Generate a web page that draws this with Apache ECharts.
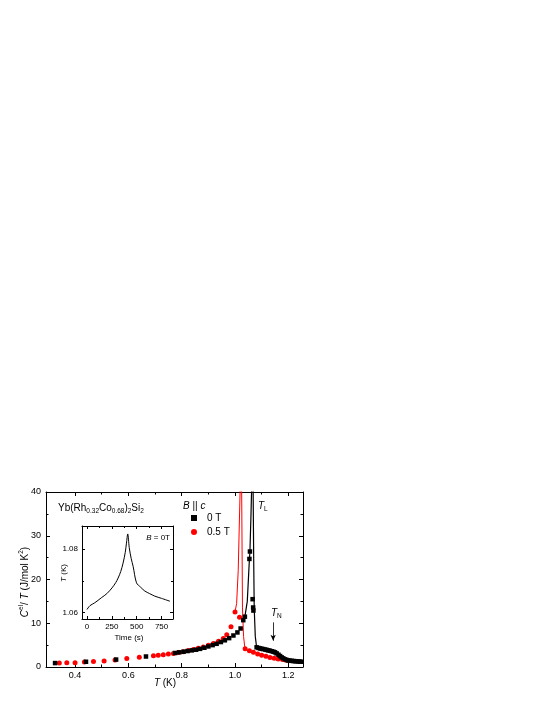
<!DOCTYPE html>
<html><head><meta charset="utf-8">
<script src="https://cdn.jsdelivr.net/npm/echarts@6/dist/echarts.min.js"></script>
<style>html,body{margin:0;padding:0;background:#fff}#c{width:545px;height:705px}</style>
</head><body><div id="c"></div>
<script>
// ---- Data: B = 0 T (black squares) ----
const T_0T = [0.325,0.441,0.554,0.666,0.775,0.791,0.807,0.822,0.838,0.854,0.869,0.885,0.900,0.916,0.931,0.947,0.962,0.978,0.994,1.009,1.021,1.031,1.037,1.054,1.056,1.066,1.068,1.069,1.081,1.088,1.094,1.100,1.106,1.113,1.119,1.125,1.131,1.138,1.144,1.150,1.156,1.163,1.169,1.175,1.181,1.188,1.194,1.200,1.206,1.213,1.219,1.225,1.231,1.238,1.244,1.250];
const C_0T = [0.9,1.2,1.7,2.4,3.2,3.35,3.5,3.65,3.8,3.95,4.15,4.4,4.7,5.0,5.3,5.7,6.1,6.6,7.2,7.9,8.8,10.7,11.5,24.7,26.4,15.5,13.6,12.9,4.5,4.35,4.25,4.15,4.1,4.0,3.9,3.8,3.73,3.6,3.5,3.35,3.12,2.8,2.5,2.2,1.98,1.75,1.6,1.5,1.45,1.4,1.37,1.33,1.3,1.26,1.22,1.2];
// ---- Data: B = 0.5 T (red circles) ----
const T_05T = [0.341,0.369,0.400,0.435,0.469,0.509,0.550,0.594,0.641,0.694,0.712,0.731,0.750,0.769,0.787,0.806,0.825,0.844,0.862,0.881,0.900,0.919,0.938,0.956,0.969,0.985,1.000,1.017,1.038,1.054,1.069,1.085,1.100,1.116,1.131,1.147,1.162,1.178,1.193];
const C_05T = [0.9,0.95,1.0,1.15,1.25,1.4,1.6,1.95,2.25,2.6,2.7,2.8,2.95,3.1,3.3,3.5,3.75,4.0,4.3,4.6,5.0,5.4,5.9,6.5,7.4,9.2,12.6,11.4,4.2,3.7,3.35,3.0,2.7,2.45,2.2,2.0,1.85,1.7,1.55];
// ---- Connecting lines through the transitions ----
const lineT_05T = [1.000,1.006,1.012,1.019,1.022,1.025,1.028,1.032,1.037];
const lineC_05T = [12.6,14.5,22,40,55,40,13.5,7,4.3];
const lineT_0T = [1.031,1.037,1.046,1.054,1.056,1.060,1.062,1.065,1.068,1.070,1.072,1.076,1.081];
const lineC_0T = [10.7,11.5,15,24.7,26.4,35,40,55,40,25,13.5,7,4.5];
// ---- Inset: temperature vs time ----
const timeS = [0,30,78,145,200,252,290,313,340,363,385,397,410,425,445,464,498,540,582,630,682,750,834];
const tempK = [1.0610,1.0622,1.0631,1.0647,1.0660,1.0678,1.0695,1.0709,1.0730,1.0756,1.0790,1.0819,1.0848,1.0805,1.0770,1.0746,1.0694,1.0680,1.0668,1.0660,1.0652,1.0645,1.0636];
// ---- Ticks ----
const xTicks = [0.4,0.6,0.8,1.0,1.2];
const xMinor = [0.5,0.7,0.9,1.1];
const yTicks = [0,10,20,30,40];
const yMinor = [5,15,25,35];
const insetXTicks = [0,250,500,750];
const insetXMinor = [125,375,625];
const insetYTicks = [1.06,1.08];
const insetYMinor = [1.07];
// T_N arrow
const arrowT = 1.143, arrowFrom = 10.2, arrowTo = 6.0;

const FONT = 'Liberation Sans, Arial, sans-serif';
const zip = (a,b) => a.map((v,i)=>[v,b[i]]);

function ax(o){
  return {
    type:'value', gridIndex:o.g, position:o.pos, min:o.min, max:o.max,
    axisLine:{show:o.line, onZero:false, lineStyle:{color:'#000', width:1}},
    axisTick:{show:true, inside:true, length:o.len, customValues:o.ticks, lineStyle:{color:'#000', width:1}},
    axisLabel:o.labels ? {show:true, customValues:o.ticks, formatter:o.fmt, fontFamily:FONT, fontSize:o.fs, color:'#000', margin:o.margin} : {show:false},
    splitLine:{show:false}, minorTick:{show:false}
  };
}

const xAxes = [
  ax({g:0,pos:'bottom',min:0.291,max:1.255,line:true,len:4,ticks:xTicks,labels:true,fmt:v=>v.toFixed(1),fs:9,margin:4}),
  ax({g:0,pos:'bottom',min:0.291,max:1.255,line:false,len:2.5,ticks:xMinor,labels:false}),
  ax({g:0,pos:'top',min:0.291,max:1.255,line:true,len:4,ticks:xTicks,labels:false}),
  ax({g:0,pos:'top',min:0.291,max:1.255,line:false,len:2.5,ticks:xMinor,labels:false}),
  ax({g:1,pos:'bottom',min:-50,max:865,line:true,len:3,ticks:insetXTicks,labels:true,fmt:v=>String(v),fs:8,margin:4}),
  ax({g:1,pos:'bottom',min:-50,max:865,line:false,len:2,ticks:insetXMinor,labels:false}),
  ax({g:1,pos:'top',min:-50,max:865,line:true,len:3,ticks:insetXTicks,labels:false}),
  ax({g:1,pos:'top',min:-50,max:865,line:false,len:2,ticks:insetXMinor,labels:false})
];
const yAxes = [
  ax({g:0,pos:'left',min:0,max:40,line:true,len:4,ticks:yTicks,labels:true,fmt:v=>String(v),fs:9,margin:5}),
  ax({g:0,pos:'left',min:0,max:40,line:false,len:2.5,ticks:yMinor,labels:false}),
  ax({g:0,pos:'right',min:0,max:40,line:true,len:4,ticks:yTicks,labels:false}),
  ax({g:0,pos:'right',min:0,max:40,line:false,len:2.5,ticks:yMinor,labels:false}),
  ax({g:1,pos:'left',min:1.058,max:1.0873,line:true,len:3,ticks:insetYTicks,labels:true,fmt:v=>v.toFixed(2),fs:8,margin:4}),
  ax({g:1,pos:'left',min:1.058,max:1.0873,line:false,len:2,ticks:insetYMinor,labels:false}),
  ax({g:1,pos:'right',min:1.058,max:1.0873,line:true,len:3,ticks:insetYTicks,labels:false}),
  ax({g:1,pos:'right',min:1.058,max:1.0873,line:false,len:2,ticks:insetYMinor,labels:false})
];

const rich = {
  n:{fontFamily:FONT,fontSize:10,color:'#000',lineHeight:14,verticalAlign:'middle'},
  i:{fontFamily:FONT,fontSize:10,color:'#000',fontStyle:'italic',lineHeight:14,verticalAlign:'middle'},
  s:{fontFamily:FONT,fontSize:6.5,color:'#000',lineHeight:14,verticalAlign:'bottom'},
  u:{fontFamily:FONT,fontSize:6.5,color:'#000',lineHeight:14,verticalAlign:'top'},
  n8:{fontFamily:FONT,fontSize:8,color:'#000',lineHeight:11,verticalAlign:'middle'},
  i8:{fontFamily:FONT,fontSize:8,color:'#000',fontStyle:'italic',lineHeight:11,verticalAlign:'middle'}
};
function txt(x,y,text,align,rot){
  return {type:'text', x:x, y:y, rotation:rot||0, silent:true, z:100,
    style:{text:text, rich:rich, align:align||'left', verticalAlign:'middle', fill:'#000'}};
}

const chart = echarts.init(document.getElementById('c'), null, {renderer:'canvas'});
chart.setOption({
  animation:false,
  backgroundColor:'#fff',
  grid:[
    {left:46, top:492, width:257, height:175},
    {left:82, top:526, width:91, height:93}
  ],
  xAxis:xAxes,
  yAxis:yAxes,
  legend:{
    data:[{name:'0 T',icon:'rect'},{name:'0.5 T',icon:'circle'}],
    orient:'vertical', left:191, top:512, padding:0, itemWidth:6, itemHeight:6, itemGap:2,
    textStyle:{fontFamily:FONT,fontSize:10,color:'#000',lineHeight:12,padding:[0,0,0,5]}
  },
  graphic:[
    txt(58,508,'{n|Yb(Rh}{s|0.32}{n|Co}{s|0.68}{n|)}{s|2}{n|Si}{s|2}'),
    txt(183,506,'{i|B}{n| || }{i|c}'),
    txt(258,506,'{i|T}{s|L}'),
    txt(271,613,'{i|T}{s|N}'),
    txt(25,582,'{i|C}{u|el}{n|/ }{i|T}{n| (J/mol K}{u|2}{n|)}','center',Math.PI/2),
    txt(165,683,'{i|T}{n| (K)}','center'),
    txt(170,538,'{i8|B}{n8| = 0T}','right'),
    txt(129,638,'{n8|Time (s)}','center'),
    txt(64,573,'{i8|T}{n8| (K)}','center',Math.PI/2)
  ],
  series:[
    {name:'0.5 T', type:'scatter', xAxisIndex:0, yAxisIndex:0, symbol:'circle', symbolSize:5,
      itemStyle:{color:'#ff0000', opacity:1}, data:zip(T_05T,C_05T), z:3},
    {name:'0 T', type:'scatter', xAxisIndex:0, yAxisIndex:0, symbol:'rect', symbolSize:4.5,
      itemStyle:{color:'#000', opacity:1}, data:zip(T_0T,C_0T), z:4},
    {name:'line05', type:'line', xAxisIndex:0, yAxisIndex:0, showSymbol:false, clip:true,
      lineStyle:{color:'#ff0000', width:1}, data:zip(lineT_05T,lineC_05T), z:2},
    {name:'line0', type:'line', xAxisIndex:0, yAxisIndex:0, showSymbol:false, clip:true,
      lineStyle:{color:'#000', width:1.2}, data:zip(lineT_0T,lineC_0T), z:2,
      markLine:{silent:true, symbol:['none','arrow'], symbolSize:[4,6], animation:false,
        lineStyle:{color:'#000', width:0.8, type:'solid'}, label:{show:false},
        data:[[{coord:[arrowT,arrowFrom]},{coord:[arrowT,arrowTo]}]]}},
    {name:'inset', type:'line', xAxisIndex:4, yAxisIndex:4, showSymbol:false, smooth:0.3,
      lineStyle:{color:'#000', width:1}, data:zip(timeS,tempK), z:6}
  ]
});
</script></body></html>
